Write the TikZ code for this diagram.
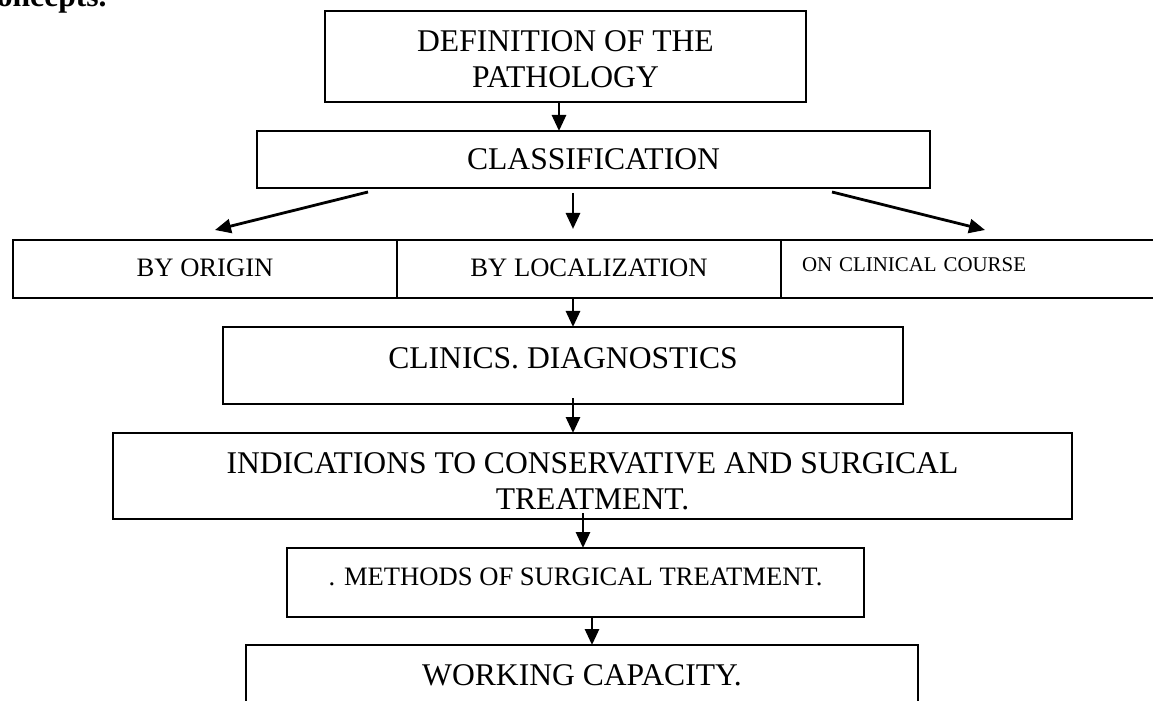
\documentclass[tikz,border=0pt]{standalone}
\usepackage{fontspec}
\setmainfont{Liberation Serif}
\usepackage{tikz}
\usetikzlibrary{arrows.meta,positioning}
\tikzset{
  pbox/.style  ={draw, line width=1pt, inner sep=0pt, outer sep=0pt, align=flush center},
  bigf/.style  ={font=\fontsize{15.8}{18}\selectfont},
  midf/.style  ={font=\fontsize{13.3}{16}\selectfont},
  smallf/.style={font=\fontsize{10.45}{12}\selectfont},
  arr/.style   ={-{Triangle[length=8pt,width=7pt]}, line width=1.4pt},
}
\begin{document}
\begin{tikzpicture}[x=0.5pt, y=-0.5pt, node distance=0pt]
\useasboundingbox (0,0) rectangle (1153,701);

\node[font=\bfseries\fontsize{15.8}{18}\selectfont, anchor=base east, inner sep=0pt]
  (heading) at (107,7) {oncepts.};

\node[pbox, bigf, minimum width=240.5pt, minimum height=45.5pt, text width=240.5pt,
      text height=13.5pt, text depth=18pt] (def) at (565.5,56.5)
  {DEFINITION OF THE\\PATHOLOGY};
\node[pbox, bigf, minimum width=336.5pt, minimum height=28.5pt,
      text height=10.5pt, text depth=0pt] (cls) at (593.5,159.5) {CLASSIFICATION};

% the three kinds of classification
\node[pbox, midf, minimum width=192pt, minimum height=29pt,
      text height=9pt, text depth=1pt] (origin) at (205,269) {BY ORIGIN};
\node[pbox, midf, minimum width=192pt, minimum height=29pt,
      text height=9pt, text depth=1pt, right=of origin] (loc) {BY LOCALIZATION};
\node[pbox, smallf, align=left, text width=171pt, inner xsep=10.5pt, minimum height=29pt,
      text height=7.5pt, text depth=5.5pt, right=of loc] (course) {ON CLINICAL COURSE};

\node[pbox, bigf, minimum width=340pt, minimum height=38.5pt,
      text height=10.5pt, text depth=8pt] (clin) at (563,365.5) {CLINICS. DIAGNOSTICS};
\node[pbox, bigf, minimum width=479.5pt, minimum height=43pt, text width=479.5pt,
      text height=15pt, text depth=18pt] (ind) at (592.5,476)
  {INDICATIONS TO CONSERVATIVE AND SURGICAL\\TREATMENT.};
\node[pbox, midf, minimum width=288.5pt, minimum height=34.5pt,
      text height=9pt, text depth=6.5pt] (meth) at (575.5,582.5)
  {. METHODS OF SURGICAL TREATMENT.};
\node[pbox, bigf, minimum width=336pt, minimum height=43pt,
      text height=10.5pt, text depth=13.5pt] (work) at (582,688) {WORKING CAPACITY.};

\draw[arr] ([xshift=-3.25pt]def.south) -- ([xshift=-3.25pt]def.south |- cls.north);
\draw[arr] ([xshift=-112.75pt, yshift=-2pt]cls.south) -- ([xshift=5pt, yshift=5pt]origin.north);
\draw[arr] ([xshift=-10.25pt, yshift=-2.5pt]cls.south) -- ([xshift=-8pt, yshift=5.5pt]loc.north);
\draw[arr] ([xshift=119.25pt, yshift=-2pt]cls.south) -- ([xshift=6pt, yshift=5pt]course.north);
\draw[arr] ([xshift=-8pt]loc.south) -- ([xshift=-8pt]loc.south |- clin.north);
\draw[arr] ([xshift=5pt, yshift=3pt]clin.south) -- ([xshift=5pt]clin.south |- ind.north);
\draw[arr] ([xshift=-4.75pt, yshift=3pt]ind.south) -- ([xshift=-4.75pt]ind.south |- meth.north);
\draw[arr] ([xshift=8.25pt]meth.south) -- ([xshift=8.25pt]meth.south |- work.north);

\end{tikzpicture}
\end{document}
